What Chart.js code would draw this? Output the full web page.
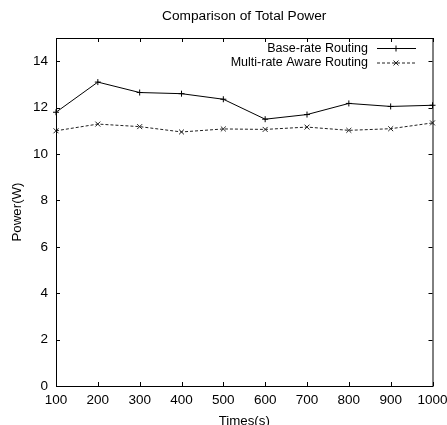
<!DOCTYPE html>
<html>
<head>
<meta charset="utf-8">
<script src="https://cdn.jsdelivr.net/npm/chart.js@4"></script>
<style>
  html, body { margin: 0; padding: 0; background: #fff; overflow: hidden; }
  #wrap { position: relative; width: 447px; height: 425px; }
</style>
</head>
<body>
<div id="wrap"><canvas id="powerChart"></canvas></div>
<script>
// data
const times = [100, 200, 300, 400, 500, 600, 700, 800, 900, 1000];
const baseRate = [11.8, 13.1, 12.65, 12.6, 12.36, 11.5, 11.7, 12.18, 12.05, 12.1];
const multiRate = [11.0, 11.29, 11.18, 10.95, 11.08, 11.06, 11.16, 11.02, 11.09, 11.34];
const seriesNames = ['Base-rate Routing', 'Multi-rate Aware Routing'];
const chartTitle = 'Comparison of Total Power';

const FONT = "'Liberation Sans', Arial, sans-serif";

function toPoints(ys) {
  return times.map((t, i) => ({ x: t, y: ys[i] }));
}

// gnuplot style frame: box, inward mirrored ticks, title and key
const gnuplotFrame = {
  id: 'gnuplotFrame',
  afterDraw(chart) {
    const ctx = chart.ctx;
    const area = chart.chartArea;
    const xs = chart.scales.x, ys = chart.scales.y;
    ctx.save();
    ctx.strokeStyle = '#000';
    ctx.lineWidth = 1;
    ctx.strokeRect(area.left + 0.5, area.top + 0.5, area.right - area.left, area.bottom - area.top);
    ctx.beginPath();
    xs.ticks.forEach(t => {
      const px = Math.round(xs.getPixelForValue(t.value)) + 0.5;
      ctx.moveTo(px, area.bottom); ctx.lineTo(px, area.bottom - 4);
      ctx.moveTo(px, area.top); ctx.lineTo(px, area.top + 4);
    });
    ys.ticks.forEach(t => {
      const py = Math.round(ys.getPixelForValue(t.value)) + 0.5;
      ctx.moveTo(area.left, py); ctx.lineTo(area.left + 4, py);
      ctx.moveTo(area.right, py); ctx.lineTo(area.right - 4, py);
    });
    ctx.stroke();

    // title
    ctx.fillStyle = '#000';
    ctx.font = '13.7px ' + FONT;
    ctx.textAlign = 'center';
    ctx.textBaseline = 'middle';
    ctx.fillText(chartTitle, (area.left + area.right) / 2, 16);

    // key
    ctx.font = '12.5px ' + FONT;
    ctx.textAlign = 'right';
    chart.data.datasets.forEach((ds, i) => {
      const y = 48.5 + i * 14.5;
      ctx.fillText(ds.label, 368, y);
      ctx.beginPath();
      ctx.strokeStyle = ds.borderColor;
      ctx.setLineDash(ds.borderDash || []);
      ctx.moveTo(377, y); ctx.lineTo(416, y);
      ctx.stroke();
      ctx.setLineDash([]);
      Chart.helpers.drawPoint(ctx, {
        pointStyle: ds.pointStyle, radius: ds.pointRadius, rotation: 0, borderWidth: 1
      }, 396, y);
    });
    ctx.restore();
  }
};

const ctx = document.getElementById('powerChart').getContext('2d');
const powerChart = new Chart(ctx, {
  type: 'line',
  data: {
    datasets: [{
      label: seriesNames[0],
      data: toPoints(baseRate),
      borderColor: '#000',
      backgroundColor: '#000',
      borderWidth: 1,
      pointStyle: 'cross',
      pointRadius: 3,
      pointBorderWidth: 1,
      tension: 0,
      clip: false
    }, {
      label: seriesNames[1],
      data: toPoints(multiRate),
      borderColor: '#222',
      backgroundColor: '#222',
      borderWidth: 1,
      borderDash: [3, 2],
      pointStyle: 'crossRot',
      pointRadius: 3.5,
      pointBorderWidth: 1,
      tension: 0,
      clip: false
    }]
  },
  options: {
    responsive: true,
    maintainAspectRatio: false,
    animation: false,
    layout: { padding: { top: 38, right: 14.5, left: 0, bottom: 0 } },
    plugins: {
      legend: { display: false },
      title: { display: false },
      tooltip: { enabled: false }
    },
    scales: {
      x: {
        type: 'linear',
        min: 100,
        max: 1000,
        afterFit: s => { s.height = 39; s.paddingRight = 0; },
        grid: { display: false, drawTicks: false },
        border: { display: false },
        ticks: { stepSize: 100, padding: 6, color: '#000', font: { family: FONT, size: 13.5 }, maxRotation: 0,
          callback: v => String(v) },
        title: { display: true, text: 'Times(s)', color: '#000', font: { family: FONT, size: 13.3 }, padding: { top: 0, bottom: -4 } }
      },
      y: {
        min: 0,
        max: 15,
        afterBuildTicks: s => { s.ticks = s.ticks.filter(t => t.value % 2 === 0); },
        afterFit: s => { s.width = 56; },
        grid: { display: false, drawTicks: false },
        border: { display: false },
        ticks: { stepSize: 2, padding: 8, color: '#000', font: { family: FONT, size: 13.5 } },
        title: { display: true, text: 'Power(W)', color: '#000', font: { family: FONT, size: 13.3 }, padding: { top: 9, bottom: 0 } }
      }
    }
  },
  plugins: [gnuplotFrame]
});
</script>
</body>
</html>
